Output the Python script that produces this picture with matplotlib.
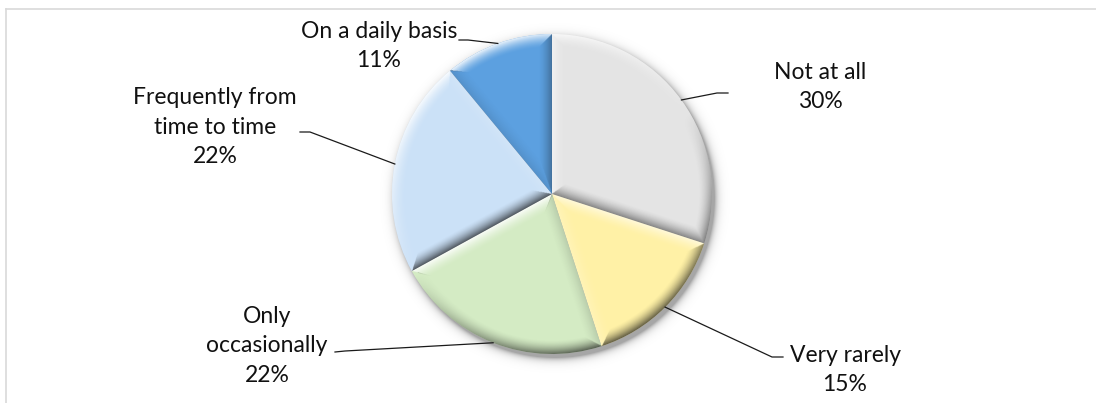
import numpy as np
import matplotlib
matplotlib.use("Agg")
import matplotlib.pyplot as plt
from matplotlib.lines import Line2D

# --- data -------------------------------------------------------------
categories = ["Not at all", "Very rarely", "Only occasionally",
              "Frequently from time to time", "On a daily basis"]
shares = [30, 15, 22, 22, 11]
label_texts = ["Not at all", "Very rarely", "Only\noccasionally",
               "Frequently from\ntime to time", "On a daily basis"]
colors = ["#e4e4e4", "#fff1a6", "#d4ebc4", "#cbe1f7", "#5ca0e0"]

# --- canvas in pixel units (y up) -------------------------------------
W, H = 1096, 403
fig = plt.figure(figsize=(W / 100, H / 100), dpi=100)
ax = fig.add_axes([0, 0, 1, 1])

cx, cy, R = 552, H - 194, 160

# soft drop shadow below the pie
gx = np.arange(cx - R - 25, cx + R + 25, 1.0)
gy = np.arange(cy - R - 25, cy + R + 25, 1.0)
GX, GY = np.meshgrid(gx, gy)
ds = np.hypot(GX - (cx + 3), GY - (cy - 4)) - R
sh = np.zeros(GX.shape + (4,))
sh[..., 3] = np.where(ds > 0, 0.35 * np.exp(-ds / 3.5), 0.35)
ax.imshow(sh, extent=(gx[0], gx[-1], gy[0], gy[-1]), origin="lower",
          interpolation="bilinear", zorder=0)

wedges, _ = ax.pie(shares, colors=colors, startangle=90, counterclock=False,
                   center=(cx, cy), radius=R,
                   wedgeprops=dict(linewidth=0, zorder=1))

# bevel shading per slice (light from the upper left)
bx = np.arange(cx - R - 2, cx + R + 2, 0.5)
by = np.arange(cy - R - 2, cy + R + 2, 0.5)
BX, BY = np.meshgrid(bx, by)
px, py = BX - cx, BY - cy
rr = np.hypot(px, py) + 1e-9
light = np.array([-0.5, 0.85])
light = light / np.linalg.norm(light)
bevel = 14.0
for w in wedges:
    t1, t2 = np.deg2rad(w.theta1), np.deg2rad(w.theta2)
    d_arc = R - rr
    d1 = np.abs(px * np.sin(t1) - py * np.cos(t1))
    d2 = np.abs(px * np.sin(t2) - py * np.cos(t2))
    dstack = np.stack([d_arc, d1, d2])
    idx = np.argmin(dstack, axis=0)
    d = np.min(dstack, axis=0)
    nx = np.choose(idx, [px / rr, np.full_like(px, np.sin(t1)), np.full_like(px, -np.sin(t2))])
    ny = np.choose(idx, [py / rr, np.full_like(px, -np.cos(t1)), np.full_like(px, np.cos(t2))])
    s = nx * light[0] + ny * light[1]
    f = np.clip(1 - d / bevel, 0, 1) ** 1.6
    img = np.zeros(BX.shape + (4,))
    pos = s > 0
    img[..., :3] = np.where(pos[..., None], 1.0, 0.05)
    img[..., 3] = np.where(pos, 0.9 * s * f, 0.65 * (-s) * f)
    im = ax.imshow(img, extent=(bx[0], bx[-1], by[0], by[-1]), origin="lower",
                   interpolation="bilinear", zorder=2)
    im.set_clip_path(w)

# labels and leader lines
label_pos = [(820, 87), (845, 370), (267, 346), (215, 127), (379, 46)]
elbows = [[(717, 93), (728, 93)],
          [(772, 357), (783, 357)],
          [(345, 351), (335, 352)],
          [(310, 132), (300, 132)],
          [(468, 40), (459, 40)]]
for w, txt, val, (lx, ly), elb in zip(wedges, label_texts, shares, label_pos, elbows):
    mid = np.deg2rad((w.theta1 + w.theta2) / 2)
    ax_pt = (cx + R * np.cos(mid), cy + R * np.sin(mid))
    xs = [ax_pt[0]] + [e[0] for e in elb]
    ys = [ax_pt[1]] + [H - e[1] for e in elb]
    ax.add_line(Line2D(xs, ys, color="#1a1a1a", lw=0.9, zorder=3))
    ax.text(lx, H - ly, f"{txt}\n{val}%", ha="center", va="center",
            fontsize=16.5, family="Lato", color="#111111",
            linespacing=1.52, zorder=4)

# chart frame
ax.add_line(Line2D([6, W], [H - 8.5, H - 8.5], color="#d9d9d9", lw=1.2, zorder=5))
ax.add_line(Line2D([6, 6], [0, H - 8.5], color="#d9d9d9", lw=1.2, zorder=5))

ax.set_xlim(0, W)
ax.set_ylim(0, H)
ax.set_aspect("auto")
ax.axis("off")

fig.savefig("out.png", dpi=100, facecolor="white")
